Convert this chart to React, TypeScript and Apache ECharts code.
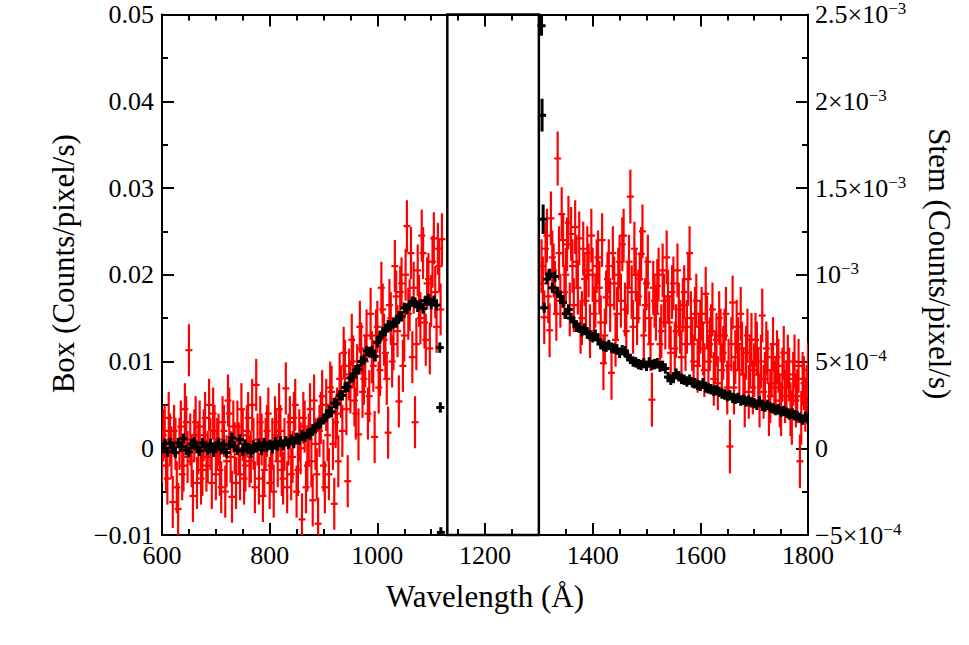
import React, { useEffect, useRef } from 'react';
import * as echarts from 'echarts';

// ---------- Box spectrum (left axis, Counts/pixel/s, values listed ×10⁻³) ----------
const boxLeftX = [
  600, 605, 610, 615, 620, 625, 630, 635, 640, 645, 650, 655, 660, 665, 670, 675, 680, 685, 690, 695,
  700, 705, 710, 715, 720, 725, 730, 735, 740, 745, 750, 755, 760, 765, 770, 775, 780, 785, 790, 795,
  800, 805, 810, 815, 820, 825, 830, 835, 840, 845, 850, 855, 860, 865, 870, 875, 880, 885, 890, 895,
  900, 905, 910, 915, 920, 925, 930, 935, 940, 945, 950, 955, 960, 965, 970, 975, 980, 985, 990, 995,
  1000, 1005, 1010, 1015, 1020, 1025, 1030, 1035, 1040, 1045, 1050, 1055, 1060, 1065, 1070, 1075, 1080, 1085, 1090, 1095,
  1100, 1105, 1110, 1115, 1120,
];
const boxLeftY = [
  -1.0, 2.0, -3.5, 1.0, -6.2, 0.5, -7.0, 2.5, -2.0, 3.0, 11.3, -1.5, 1.5, -4.0, 2.5, -2.5, 3.5, -1.0, 0.5, 4.0,
  -3.0, 1.0, -4.5, 2.0, -1.5, 4.0, -5.6, 0.0, 2.5, -3.0, 1.5, -2.0, 3.5, -1.0, 0.5, 7.3, -3.5, 1.0, -2.5, 2.0,
  -4.0, 0.5, 3.0, -1.5, 2.0, -3.5, 6.9, 1.0, -3.0, 3.5, -5.0, 1.5, -8.2, 2.5, -2.0, 4.5, -6.0, 0.5, -8.7, 3.5,
  -2.0, 5.0, -3.0, 6.5, -6.4, 4.0, 8.0, 2.0, 9.5, -3.8, 7.0, 10.0, 4.0, 1.6, 11.5, 8.0, 13.0, 6.0, 10.5, 1.3,
  14.0, 9.0, 16.0, 11.0, 1.8, 15.0, 12.0, 17.5, 5.4, 19.0, 13.0, 25.6, 16.5, 10.5, 3.0, 20.5, 15.0, 22.5, 12.5, 19.5,
  17.0, 24.2, 14.0, 21.0, 24.1,
];
const boxLeftMidX = [
  602.5, 607.5, 612.5, 617.5, 622.5, 627.5, 632.5, 637.5, 642.5, 647.5, 652.5, 657.5, 662.5, 667.5, 672.5, 677.5, 682.5, 687.5, 692.5, 697.5,
  702.5, 707.5, 712.5, 717.5, 722.5, 727.5, 732.5, 737.5, 742.5, 747.5, 752.5, 757.5, 762.5, 767.5, 772.5, 777.5, 782.5, 787.5, 792.5, 797.5,
  802.5, 807.5, 812.5, 817.5, 822.5, 827.5, 832.5, 837.5, 842.5, 847.5, 852.5, 857.5, 862.5, 867.5, 872.5, 877.5, 882.5, 887.5, 892.5, 897.5,
  902.5, 907.5, 912.5, 917.5, 922.5, 927.5, 932.5, 937.5, 942.5, 947.5, 952.5, 957.5, 962.5, 967.5, 972.5, 977.5, 982.5, 987.5, 992.5, 997.5,
  1002.5, 1007.5, 1012.5, 1017.5, 1022.5, 1027.5, 1032.5, 1037.5, 1042.5, 1047.5, 1052.5, 1057.5, 1062.5, 1067.5, 1072.5, 1077.5, 1082.5, 1087.5, 1092.5, 1097.5,
  1102.5, 1107.5, 1112.5, 1117.5,
];
const boxLeftMidY = [
  1.5, -2.0, 3.5, -0.5, 2.0, -4.5, 0.5, -3.0, 4.5, -1.0, 1.0, -5.5, 3.0, 0.0, -3.5, 1.5, -2.0, 5.0, -4.0, 2.0,
  0.5, -2.5, 3.0, -5.0, 5.5, -1.0, 2.5, -4.0, 0.0, 4.5, -3.5, 2.0, -1.5, 5.0, -4.5, 1.0, 3.0, -5.5, 0.5, 4.0,
  -2.0, -5.0, 1.5, 4.5, -2.5, 0.5, -4.5, 3.0, -1.0, 5.0, -2.5, 0.0, 3.5, -4.5, 1.0, -1.5, 5.5, -3.0, 2.0, 6.0,
  -4.5, 1.5, 7.0, 0.5, 3.0, -1.5, 6.5, 11.0, 4.5, 8.5, 12.5, 5.5, 9.0, 14.0, 6.5, 10.0, 4.0, 15.5, 9.5, 13.0,
  7.0, 18.5, 12.5, 8.0, 16.5, 10.0, 21.0, 13.5, 18.0, 9.5, 20.0, 15.5, 22.5, 18.5, 12.0, 17.0, 24.5, 14.5, 19.0, 11.5,
  21.5, 18.0, 23.0, 16.0,
];
const boxRightX = [
  1305, 1310, 1315, 1320, 1325, 1330, 1335, 1340, 1345, 1350, 1355, 1360, 1365, 1370, 1375, 1380, 1385, 1390, 1395, 1400,
  1405, 1410, 1415, 1420, 1425, 1430, 1435, 1440, 1445, 1450, 1455, 1460, 1465, 1470, 1475, 1480, 1485, 1490, 1495, 1500,
  1505, 1510, 1515, 1520, 1525, 1530, 1535, 1540, 1545, 1550, 1555, 1560, 1565, 1570, 1575, 1580, 1585, 1590, 1595, 1600,
  1605, 1610, 1615, 1620, 1625, 1630, 1635, 1640, 1645, 1650, 1655, 1660, 1665, 1670, 1675, 1680, 1685, 1690, 1695, 1700,
  1705, 1710, 1715, 1720, 1725, 1730, 1735, 1740, 1745, 1750, 1755, 1760, 1765, 1770, 1775, 1780, 1785, 1790, 1795, 1800,
];
const boxRightY = [
  21.0, 15.1, 24.5, 13.6, 22.0, 18.5, 33.4, 17.0, 24.0, 20.0, 26.0, 24.7, 16.5, 21.5, 24.2, 15.0, 19.5, 22.5, 13.5, 20.0,
  17.0, 22.0, 14.5, 9.8, 17.4, 21.0, 8.7, 19.0, 15.5, 21.5, 23.5, 16.0, 18.5, 29.0, 14.0, 20.0, 17.5, 22.4, 13.0, 19.0,
  15.0, 5.6, 17.0, 18.7, 12.0, 20.5, 14.5, 17.5, 11.0, 19.0, 13.5, 16.0, 10.5, 18.0, 14.0, 22.5, 12.0, 15.5, 9.5, 14.0,
  11.5, 17.8, 10.0, 13.5, 8.0, 12.5, 15.0, 9.0, 13.0, 7.0, 0.2, 16.8, 10.5, 12.0, 15.5, 8.5, 11.0, 6.5, 12.5, 9.0,
  11.5, 5.5, 15.3, 8.0, 10.5, 6.0, 12.0, 7.5, 9.5, 4.5, 11.0, 7.0, 8.5, 3.5, 10.0, 6.0, -1.5, 8.0, 5.0, 9.0,
];
const boxRightMidX = [
  1307.5, 1312.5, 1317.5, 1322.5, 1327.5, 1332.5, 1337.5, 1342.5, 1347.5, 1352.5, 1357.5, 1362.5, 1367.5, 1372.5, 1377.5, 1382.5, 1387.5, 1392.5, 1397.5,
  1402.5, 1407.5, 1412.5, 1417.5, 1422.5, 1427.5, 1432.5, 1437.5, 1442.5, 1447.5, 1452.5, 1457.5, 1462.5, 1467.5, 1472.5, 1477.5, 1482.5, 1487.5, 1492.5, 1497.5,
  1502.5, 1507.5, 1512.5, 1517.5, 1522.5, 1527.5, 1532.5, 1537.5, 1542.5, 1547.5, 1552.5, 1557.5, 1562.5, 1567.5, 1572.5, 1577.5, 1582.5, 1587.5, 1592.5, 1597.5,
  1602.5, 1607.5, 1612.5, 1617.5, 1622.5, 1627.5, 1632.5, 1637.5, 1642.5, 1647.5, 1652.5, 1657.5, 1662.5, 1667.5, 1672.5, 1677.5, 1682.5, 1687.5, 1692.5, 1697.5,
  1702.5, 1707.5, 1712.5, 1717.5, 1722.5, 1727.5, 1732.5, 1737.5, 1742.5, 1747.5, 1752.5, 1757.5, 1762.5, 1767.5, 1772.5, 1777.5, 1782.5, 1787.5, 1792.5, 1797.5,
];
const boxRightMidY = [
  19.0, 23.0, 17.5, 26.5, 20.5, 15.5, 22.5, 27.0, 18.0, 23.5, 16.0, 21.0, 25.5, 18.5, 14.0, 23.0, 17.0, 20.5, 24.5,
  15.5, 21.0, 18.5, 24.0, 13.0, 19.5, 16.5, 22.5, 12.5, 20.0, 17.0, 24.5, 13.5, 21.5, 18.0, 23.0, 15.0, 19.5, 25.0, 16.5,
  21.5, 12.0, 18.5, 15.5, 20.0, 13.5, 17.0, 22.0, 14.5, 18.0, 11.5, 20.5, 14.0, 16.5, 12.0, 19.5, 15.0, 10.0, 17.0, 12.5,
  15.5, 9.0, 14.5, 12.0, 16.0, 10.5, 7.5, 13.0, 11.0, 15.5, 9.5, 12.0, 7.0, 14.0, 9.0, 11.5, 5.5, 13.0, 10.0, 7.0,
  12.5, 8.5, 10.0, 6.5, 11.5, 4.5, 9.0, 7.0, 10.5, 5.5, 8.5, 6.0, 10.0, 4.5, 8.0, 5.5, 9.5, 3.5, 7.5, 6.5,
];
const BOX_UNIT = 1e-3;
const boxErrLeft = 3.0; // ×10⁻³
const boxErrRight = 3.1; // ×10⁻³
const boxBinHalf = 6.5; // Å

// ---------- Stem spectrum (right axis, Counts/pixel/s, values listed ×10⁻⁴) ----------
const stemLeftX = [
  600, 605, 610, 615, 620, 625, 630, 635, 640, 645, 650, 655, 660, 665, 670, 675, 680, 685, 690, 695,
  700, 705, 710, 715, 720, 725, 730, 735, 740, 745, 750, 755, 760, 765, 770, 775, 780, 785, 790, 795,
  800, 805, 810, 815, 820, 825, 830, 835, 840, 845, 850, 855, 860, 865, 870, 875, 880, 885, 890, 895,
  900, 905, 910, 915, 920, 925, 930, 935, 940, 945, 950, 955, 960, 965, 970, 975, 980, 985, 990, 995,
  1000, 1005, 1010, 1015, 1020, 1025, 1030, 1035, 1040, 1045, 1050, 1055, 1060, 1065, 1070, 1075, 1080, 1085, 1090, 1095,
  1100, 1105, 1110,
];
const stemLeftY = [
  0.0, 0.25, -0.2, 0.3, 0.05, -0.25, 0.3, 0.1, 0.55, -0.1, -0.2, 0.25, 0.35, 0.0, -0.15, 0.3, 0.1, -0.1, 0.25, -0.2,
  0.1, 0.3, -0.05, 0.2, -0.25, 0.2, 0.6, 0.1, -0.1, 0.5, -0.15, 0.2, 0.0, -0.25, 0.15, 0.05, 0.25, -0.1, 0.3, 0.1,
  0.2, 0.0, 0.35, 0.15, 0.4, 0.2, 0.4, 0.25, 0.5, 0.3, 0.6, 0.5, 0.75, 0.65, 0.85, 0.8, 1.1, 1.15, 1.4, 1.45,
  1.7, 1.8, 2.15, 2.1, 2.6, 2.55, 3.05, 3.05, 3.5, 3.55, 4.05, 4.1, 4.5, 4.55, 5.0, 5.1, 5.6, 5.55, 5.6, 5.3,
  6.1, 6.4, 6.7, 6.75, 7.1, 7.05, 7.2, 7.25, 7.6, 7.6, 8.1, 8.05, 8.25, 8.45, 8.4, 8.15, 8.3, 8.05, 8.5, 8.6,
  8.3, 8.5, 8.25,
];
const stemRightX = [
  1310, 1315, 1320, 1325, 1330, 1335, 1340, 1345, 1350, 1355, 1360, 1365, 1370, 1375, 1380, 1385, 1390, 1395, 1400,
  1405, 1410, 1415, 1420, 1425, 1430, 1435, 1440, 1445, 1450, 1455, 1460, 1465, 1470, 1475, 1480, 1485, 1490, 1495, 1500,
  1505, 1510, 1515, 1520, 1525, 1530, 1535, 1540, 1545, 1550, 1555, 1560, 1565, 1570, 1575, 1580, 1585, 1590, 1595, 1600,
  1605, 1610, 1615, 1620, 1625, 1630, 1635, 1640, 1645, 1650, 1655, 1660, 1665, 1670, 1675, 1680, 1685, 1690, 1695, 1700,
  1705, 1710, 1715, 1720, 1725, 1730, 1735, 1740, 1745, 1750, 1755, 1760, 1765, 1770, 1775, 1780, 1785, 1790, 1795, 1800,
];
const stemRightY = [
  8.1, 9.75, 10.05, 9.25, 9.9, 9.0, 8.75, 8.4, 7.75, 8.0, 7.5, 7.3, 7.0, 6.95, 6.75, 6.9, 6.6, 6.5, 6.4,
  6.55, 6.25, 6.0, 5.9, 5.85, 5.95, 5.8, 5.75, 5.7, 5.5, 5.65, 5.6, 5.3, 5.15, 5.0, 4.95, 4.85, 4.8, 4.9, 4.75,
  4.95, 4.8, 4.85, 4.9, 4.7, 4.75, 4.6, 4.1, 3.95, 4.05, 4.3, 4.15, 4.0, 3.95, 3.85, 3.95, 3.8, 3.75, 3.65, 3.6,
  3.75, 3.5, 3.45, 3.4, 3.3, 3.35, 3.25, 3.15, 3.1, 3.0, 3.05, 2.9, 2.85, 2.9, 2.75, 2.8, 2.7, 2.75, 2.65, 2.6,
  2.5, 2.7, 2.45, 2.4, 2.5, 2.35, 2.3, 2.2, 2.25, 2.1, 2.15, 2.05, 1.95, 2.0, 1.9, 1.85, 1.75, 1.65, 1.8, 1.7,
];
const stemOutlierX = [1116, 1117, 1118, 1305, 1306, 1308];
const stemOutlierY = [5.8, 2.35, -4.85, 24.35, 19.2, 13.2];
const stemOutlierErr = [0.3, 0.3, 0.3, 0.57, 0.95, 0.85];
const STEM_UNIT = 1e-4;
const stemErr = 0.3; // ×10⁻⁴
const stemBinHalf = 7.5; // Å

// Detector gap box
const gapRegion = [1130, 1300];

// Axis ranges / ticks
const xRange = [600, 1800];
const xStep = 200;
const boxRange = [-0.01, 0.05];
const boxStep = 0.01;
const stemRange = [-0.0005, 0.0025];
const stemStep = 0.0005;

const FONT = 'Liberation Serif';

function rows(xs: number[], ys: number[], unit: number, err: number | number[], hw: number) {
  return xs.map((x, i) => [x, ys[i] * unit, (Array.isArray(err) ? err[i] : err) * unit, hw]);
}

function errorBarSeries(name: string, yAxisIndex: number, data: number[][], color: string, lw: number) {
  return {
    name,
    type: 'custom',
    xAxisIndex: 0,
    yAxisIndex,
    clip: true,
    silent: true,
    encode: { x: 0, y: 1 },
    data,
    renderItem: (_p: any, api: any) => {
      const x = api.value(0);
      const y = api.value(1);
      const e = api.value(2);
      const hw = api.value(3);
      const c = api.coord([x, y]);
      const t = api.coord([x, y + e]);
      const b = api.coord([x, y - e]);
      const l = api.coord([x - hw, y]);
      const r = api.coord([x + hw, y]);
      const style = { stroke: color, lineWidth: lw, fill: 'none' };
      return {
        type: 'group',
        children: [
          { type: 'line', shape: { x1: c[0], y1: t[1], x2: c[0], y2: b[1] }, style },
          { type: 'line', shape: { x1: l[0], y1: c[1], x2: r[0], y2: c[1] }, style },
        ],
      };
    },
  };
}

const boxLabel = (v: number) => {
  const s = String(Number(v.toFixed(3)));
  return s.replace('-', '−');
};

const stemLabel = (v: number) => {
  if (Math.abs(v) < 1e-12) return '{b|0}';
  const sign = v < 0 ? '−' : '';
  const a = Math.abs(v);
  const exp = Math.floor(Math.log10(a) + 1e-9);
  const m = Math.round((a / Math.pow(10, exp)) * 10) / 10;
  const mant = m === 1 ? '' : `${m}×`;
  return `{b|${sign}${mant}10}{s|−${Math.abs(exp)}}`;
};

const axisLine = { show: true, onZero: false, lineStyle: { color: '#000', width: 2 } };
const axisTick = { show: true, inside: true, length: 12, lineStyle: { color: '#000', width: 2 } };
const minorTick = (n: number) => ({ show: true, splitNumber: n, length: 6, lineStyle: { color: '#000', width: 2 } });

export default function App() {
  const ref = useRef<HTMLDivElement>(null);
  useEffect(() => {
    const chart = echarts.init(ref.current!, null, { renderer: 'svg' });
    const option: any = {
      animation: false,
      backgroundColor: '#fff',
      textStyle: { fontFamily: FONT },
      grid: { left: 162, top: 12, width: 646, height: 523, containLabel: false },
      xAxis: [
        {
          type: 'value', position: 'bottom', min: xRange[0], max: xRange[1], interval: xStep,
          axisLine, axisTick, minorTick: minorTick(4), splitLine: { show: false },
          axisLabel: { fontFamily: FONT, fontSize: 26, color: '#000', margin: 7, formatter: (v: number) => String(v) },
          name: 'Wavelength (Å)', nameLocation: 'middle', nameGap: 46,
          nameTextStyle: { fontFamily: FONT, fontSize: 31, color: '#000' },
        },
        {
          type: 'value', position: 'top', min: xRange[0], max: xRange[1], interval: xStep,
          axisLine, axisTick, minorTick: minorTick(4), splitLine: { show: false },
          axisLabel: { show: false },
        },
      ],
      yAxis: [
        {
          type: 'value', position: 'left', min: boxRange[0], max: boxRange[1], interval: boxStep,
          axisLine, axisTick, minorTick: minorTick(2), splitLine: { show: false },
          axisLabel: { fontFamily: FONT, fontSize: 26, color: '#000', margin: 8, formatter: boxLabel },
          name: 'Box (Counts/pixel/s)', nameLocation: 'middle', nameGap: 83, nameRotate: 90,
          nameTextStyle: { fontFamily: FONT, fontSize: 31, color: '#000', padding: [0, 0, 0, 22] },
        },
        {
          type: 'value', position: 'right', min: stemRange[0], max: stemRange[1], interval: stemStep,
          axisLine, axisTick, minorTick: minorTick(2), splitLine: { show: false },
          axisLabel: {
            fontFamily: FONT, fontSize: 26, color: '#000', margin: 7, formatter: stemLabel,
            rich: {
              b: { fontFamily: FONT, fontSize: 26, color: '#000' },
              s: { fontFamily: FONT, fontSize: 17, color: '#000', padding: [0, 0, 12, 0] },
            },
          },
          name: 'Stem (Counts/pixel/s)', nameLocation: 'middle', nameGap: 116, nameRotate: -90,
          nameTextStyle: { fontFamily: FONT, fontSize: 31, color: '#000', padding: [0, 22, 0, 0] },
        },
      ],
      series: [
        errorBarSeries('Box', 0, [
          ...rows(boxLeftX, boxLeftY, BOX_UNIT, boxErrLeft, boxBinHalf),
          ...rows(boxLeftMidX, boxLeftMidY, BOX_UNIT, boxErrLeft, boxBinHalf),
          ...rows(boxRightX, boxRightY, BOX_UNIT, boxErrRight, boxBinHalf),
          ...rows(boxRightMidX, boxRightMidY, BOX_UNIT, boxErrRight, boxBinHalf),
        ], '#ff0000', 2.2),
        errorBarSeries('Stem', 1, [
          ...rows(stemLeftX, stemLeftY, STEM_UNIT, stemErr, stemBinHalf),
          ...rows(stemRightX, stemRightY, STEM_UNIT, stemErr, stemBinHalf),
          ...rows(stemOutlierX, stemOutlierY, STEM_UNIT, stemOutlierErr, stemBinHalf),
        ], '#000000', 3),
        {
          name: 'Gap',
          type: 'custom',
          xAxisIndex: 0,
          yAxisIndex: 0,
          silent: true,
          clip: false,
          encode: { x: [0, 1], y: [2, 3] },
          data: [[gapRegion[0], gapRegion[1], boxRange[0], boxRange[1]]],
          renderItem: (_p: any, api: any) => {
            const a = api.coord([api.value(0), api.value(3)]);
            const b = api.coord([api.value(1), api.value(2)]);
            return {
              type: 'rect',
              shape: { x: a[0], y: a[1], width: b[0] - a[0], height: b[1] - a[1] },
              style: { fill: 'none', stroke: '#000', lineWidth: 2.5 },
            };
          },
        },
      ],
    };
    chart.setOption(option);
    return () => chart.dispose();
  }, []);
  return (
    <div
      ref={ref}
      style={{ position: 'fixed', left: 0, top: 0, width: 969, height: 645, background: '#fff' }}
    />
  );
}
